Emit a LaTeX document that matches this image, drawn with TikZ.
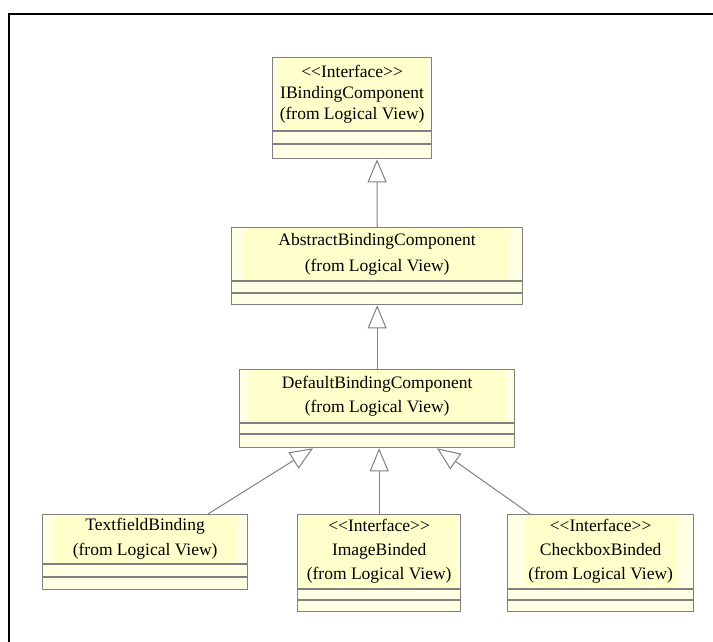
\documentclass[tikz,border=0pt]{standalone}
\usepackage{fontspec}
\setmainfont{Liberation Serif}
\usetikzlibrary{arrows.meta}
\definecolor{classfill}{RGB}{255,255,228}
\definecolor{titlefill}{RGB}{255,255,204}
\definecolor{umlline}{RGB}{128,128,128}
\tikzset{
  classbox/.style={draw=umlline, line width=1.3pt, fill=classfill, anchor=north west, inner sep=0pt},
  titlebox/.style={fill=titlefill, anchor=north, align=center, inner xsep=0pt, inner ysep=0pt,
    font=\fontsize{17.5}{#1}\selectfont},
  compartment/.style={draw=umlline, line width=1.2pt},
  realizes/.style={draw=umlline, line width=1pt,
    -{Triangle[open, length=23pt, width=19pt, fill=white]}},
  frameline/.style={draw=black, line width=2pt},
}
\begin{document}
\begin{tikzpicture}[x=1pt, y=-1pt]
  \useasboundingbox (0,0) rectangle (713,642);
  \draw[frameline] (9,642) -- (9,14) -- (713,14);

  % IBindingComponent
  \node[classbox, minimum width=159pt, minimum height=101pt] (ibc) at (272,57) {};
  \node[titlebox=21pt, minimum height=72pt, minimum width=146pt] (ibc-t) at ([yshift=-1pt]ibc.north)
    {{<}{<}Interface{>}{>}\\IBindingComponent\\(from Logical View)};
  \draw[compartment] ([yshift=-74pt]ibc.north west) -- ([yshift=-74pt]ibc.north east);
  \draw[compartment] ([yshift=-87pt]ibc.north west) -- ([yshift=-87pt]ibc.north east);

  % AbstractBindingComponent
  \node[classbox, minimum width=291pt, minimum height=77pt] (abc) at (231,227) {};
  \node[titlebox=26pt, minimum height=52pt, minimum width=266pt] (abc-t) at ([yshift=-1pt]abc.north)
    {AbstractBindingComponent\\(from Logical View)};
  \draw[compartment] ([yshift=-54pt]abc.north west) -- ([yshift=-54pt]abc.north east);
  \draw[compartment] ([yshift=-66pt]abc.north west) -- ([yshift=-66pt]abc.north east);

  % DefaultBindingComponent
  \node[classbox, minimum width=275pt, minimum height=78pt] (dbc) at (239,369) {};
  \node[titlebox=24pt, minimum height=52pt, minimum width=256pt] (dbc-t) at ([yshift=-1pt]dbc.north)
    {DefaultBindingComponent\\(from Logical View)};
  \draw[compartment] ([yshift=-54pt]dbc.north west) -- ([yshift=-54pt]dbc.north east);
  \draw[compartment] ([yshift=-65pt]dbc.north west) -- ([yshift=-65pt]dbc.north east);

  % TextfieldBinding
  \node[classbox, minimum width=205pt, minimum height=75pt] (tfb) at (42,514) {};
  \node[titlebox=25pt, minimum height=48pt, minimum width=185pt] (tfb-t) at ([yshift=-1pt]tfb.north)
    {TextfieldBinding\\(from Logical View)};
  \draw[compartment] ([yshift=-50pt]tfb.north west) -- ([yshift=-50pt]tfb.north east);
  \draw[compartment] ([yshift=-63pt]tfb.north west) -- ([yshift=-63pt]tfb.north east);

  % ImageBinded
  \node[classbox, minimum width=163pt, minimum height=97pt] (ibd) at (297,514) {};
  \node[titlebox=24pt, minimum height=73pt, minimum width=156pt] (ibd-t) at ([yshift=-1pt]ibd.north)
    {{<}{<}Interface{>}{>}\\ImageBinded\\(from Logical View)};
  \draw[compartment] ([yshift=-75pt]ibd.north west) -- ([yshift=-75pt]ibd.north east);
  \draw[compartment] ([yshift=-86pt]ibd.north west) -- ([yshift=-86pt]ibd.north east);

  % CheckboxBinded
  \node[classbox, minimum width=186pt, minimum height=97pt] (cbb) at (507,514) {};
  \node[titlebox=24pt, minimum height=73pt, minimum width=152pt] (cbb-t) at ([yshift=-1pt]cbb.north)
    {{<}{<}Interface{>}{>}\\CheckboxBinded\\(from Logical View)};
  \draw[compartment] ([yshift=-75pt]cbb.north west) -- ([yshift=-75pt]cbb.north east);
  \draw[compartment] ([yshift=-86pt]cbb.north west) -- ([yshift=-86pt]cbb.north east);

  % Realization / generalization connectors
  \draw[realizes] (abc.north) -- ([xshift=105pt]ibc.south west);
  \draw[realizes] (dbc.north) -- (abc.south);
  \draw[realizes] ([xshift=166pt]tfb.north west) -- ([xshift=74pt]dbc.south west);
  \draw[realizes] (ibd.north) -- (ibd.north |- dbc.south);
  \draw[realizes] ([xshift=23pt]cbb.north west) -- ([xshift=198pt]dbc.south west);
\end{tikzpicture}
\end{document}
